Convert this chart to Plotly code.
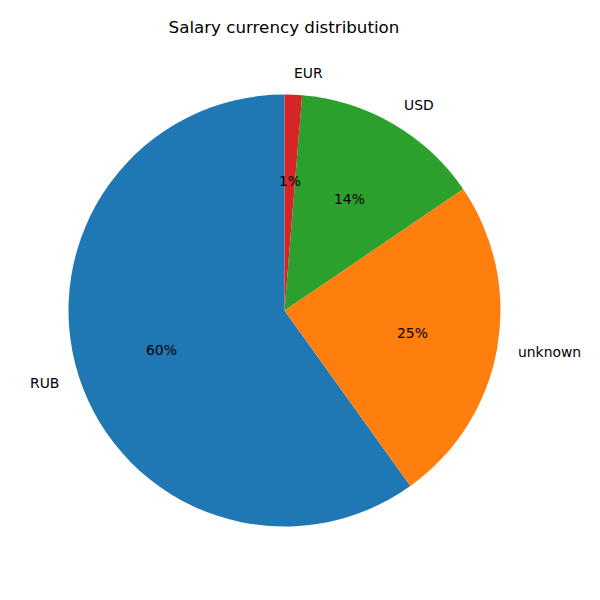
import numpy as np
import plotly.graph_objects as go

labels = ["RUB", "unknown", "USD", "EUR"]
shares = [59.9, 24.6, 14.2, 1.3]
colors = ["#1f77b4", "#ff7f0e", "#2ca02c", "#d62728"]

W = 600
off = 8  # page body margin in the browser
cx, cy, r = 284.5 - off, 310.5 - off, 216.0

total = sum(shares)
fracs = np.array(shares) / total

# plotly's counterclockwise mode keeps the first slice clockwise of the rotation,
# so rotate back by the first slice to start at 12 o'clock like matplotlib
fig = go.Figure()
fig.add_trace(go.Pie(
    labels=labels, values=shares, sort=False, direction="counterclockwise",
    rotation=-360 * fracs[0], textinfo="none", hoverinfo="label+percent",
    marker=dict(colors=colors, line=dict(width=0)),
    domain=dict(x=[(cx - r) / W, (cx + r) / W], y=[1 - (cy + r) / W, 1 - (cy - r) / W]),
    showlegend=False,
))

# label / pct positions like matplotlib (startangle=90, counterclockwise)
start = 90.0
annotations = []
for lab, f in zip(labels, fracs):
    mid = np.radians(start + 360 * f / 2)
    start += 360 * f
    lx = cx + 1.1 * r * np.cos(mid)
    ly = cy - 1.1 * r * np.sin(mid)
    right = np.cos(mid) > 0
    annotations.append(dict(
        x=lx / W, y=1 - ly / W, xref="paper", yref="paper", text=lab, showarrow=False,
        xanchor="left" if right else "right", yanchor="middle",
        xshift=-2 if right else 3,
        font=dict(size=13.9, color="black"),
    ))
    px_ = cx + 0.6 * r * np.cos(mid)
    py_ = cy - 0.6 * r * np.sin(mid)
    annotations.append(dict(
        x=px_ / W, y=1 - py_ / W, xref="paper", yref="paper", text="%.0f%%" % (f * 100),
        showarrow=False, xanchor="center", yanchor="middle",
        font=dict(size=13.9, color="black"),
    ))

fig.update_layout(
    width=600, height=600,
    margin=dict(l=0, r=0, t=0, b=0),
    paper_bgcolor="white", plot_bgcolor="white",
    font=dict(family="DejaVu Sans", color="black"),
    title=dict(text="Salary currency distribution", x=(284 - off) / W, xanchor="center",
               y=1 - (27 - off) / W, yanchor="middle", font=dict(size=16.7, color="black")),
    annotations=annotations,
)

fig.write_html("out.html")
